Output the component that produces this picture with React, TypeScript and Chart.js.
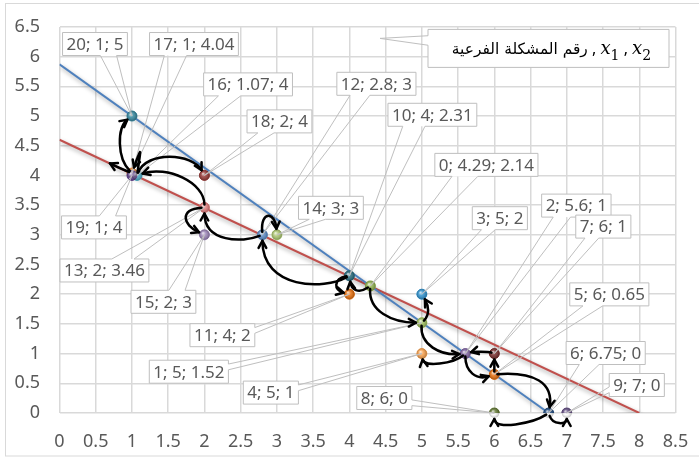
import React, { useEffect, useRef } from "react";
import { Chart, registerables } from "chart.js";

Chart.register(...registerables);

// ---- data ----
const problemIds = [0, 1, 2, 3, 4, 5, 6, 7, 8, 9, 10, 11, 12, 13, 14, 15, 16, 17, 18, 19, 20];
const x1Values = [4.29, 5, 5.6, 5, 5, 6, 6.75, 6, 6, 7, 4, 4, 2.8, 2, 3, 2, 1.07, 1, 2, 1, 1];
const x2Values = [2.14, 1.52, 1, 2, 1, 0.65, 0, 1, 0, 0, 2.31, 2, 3, 3.46, 3, 3, 4, 4.04, 4, 4, 5];
const pointColors = [
  "#8FB04C", "#9BBB59", "#8064A2", "#2D8FCB", "#F6A04D", "#E46C0A", "#1F497D",
  "#772C2A", "#5F7530", "#5F4A7E", "#276A7C", "#E46C0A", "#5A8AC6", "#E07B7B",
  "#A9C46E", "#9982B5", "#4BACC6", "#F79646", "#943634", "#5F3D8E", "#31859C",
];
const blueLineX = [0, 6.75];
const blueLineY = [5.87, 0];
const redLineX = [0, 8];
const redLineY = [4.6, 0];
const xTicks = [0, 0.5, 1, 1.5, 2, 2.5, 3, 3.5, 4, 4.5, 5, 5.5, 6, 6.5, 7, 7.5, 8, 8.5];
const yTicks = [0, 0.5, 1, 1.5, 2, 2.5, 3, 3.5, 4, 4.5, 5, 5.5, 6, 6.5];
const legendArabic = "رقم المشكلة الفرعية";
const arrowFrom = [0, 10, 10, 12, 12, 13, 13, 16, 16, 17, 17, 0, 1, 1, 2, 2, 5, 7, 5, 6, 6];
const arrowTo = [10, 11, 12, 14, 13, 15, 16, 18, 17, 20, 19, 1, 3, 2, 4, 5, 7, 2, 6, 8, 9];

// ---- layout / style (label offsets in px from point, arrow bends in px) ----
const labelOffsets: [number, number][] = [
  [116, -121], [-233, 49], [111, -148], [78, -76], [-151, 39], [115, -80], [57, -60],
  [109, -127], [-110, -15], [70, -28], [83, -161], [-127, 41], [114, -151], [-100, 63],
  [54, -27], [-41, 67], [111, -91], [62, -129], [75, -54], [-38, 52], [-37, -72],
];
// c1 offset from start, c2 offset from end, optional end offset
const arrowBends: number[][] = [
  [-12, 8, 2, 14],
  [-16, 3, -16, -4],
  [-25, 14, 0, 55],
  [-2, -24, -2, -24],
  [-20, 8, 0, 35],
  [-25, 2, -22, -10],
  [0, -25, 30, -10],
  [10, -25, -12, -22],
  [4, -28, 10, -28],
  [-15, -15, -15, 12],
  [-8, -3, 8, 4, -22, -12],
  [-2, 25, -30, 0],
  [8, -8, 7, 12],
  [-2, 22, -25, 2],
  [-12, 10, 2, 14],
  [0, 18, -18, 6],
  [0, -6, 0, 8],
  [-6, -2, 8, -2],
  [40, -3, 5, -30],
  [-15, 10, 0, 18],
  [4, 12, 0, 12],
];

const TEXT_GRAY = "#595959";
const LABEL_FONT = '17px "Noto Sans"';

function drawCallout(ctx: CanvasRenderingContext2D, px: number, py: number, l: number, t: number, w: number, h: number) {
  const cx = l + w / 2, cy = t + h / 2;
  const dx = px - cx, dy = py - cy;
  const dq = (dx * h) / w;
  const dz = Math.abs(dy) - Math.abs(dq);
  const xg1 = dx > 0 ? 7 : 2, xg2 = dx > 0 ? 10 : 5;
  const yg1 = dy > 0 ? 7 : 2, yg2 = dy > 0 ? 10 : 5;
  ctx.beginPath();
  ctx.moveTo(l, t);
  if (dz > 0 && dy < 0) {
    ctx.lineTo(l + (w * xg1) / 12, t);
    ctx.lineTo(px, py);
    ctx.lineTo(l + (w * xg2) / 12, t);
  }
  ctx.lineTo(l + w, t);
  if (dz <= 0 && dx > 0) {
    ctx.lineTo(l + w, t + (h * yg1) / 12);
    ctx.lineTo(px, py);
    ctx.lineTo(l + w, t + (h * yg2) / 12);
  }
  ctx.lineTo(l + w, t + h);
  if (dz > 0 && dy > 0) {
    ctx.lineTo(l + (w * xg2) / 12, t + h);
    ctx.lineTo(px, py);
    ctx.lineTo(l + (w * xg1) / 12, t + h);
  }
  ctx.lineTo(l, t + h);
  if (dz <= 0 && dx < 0) {
    ctx.lineTo(l, t + (h * yg2) / 12);
    ctx.lineTo(px, py);
    ctx.lineTo(l, t + (h * yg1) / 12);
  }
  ctx.closePath();
  ctx.fillStyle = "#FFFFFF";
  ctx.fillRect(l, t, w, h);
  ctx.strokeStyle = "#BFBFBF";
  ctx.lineWidth = 1;
  ctx.stroke();
}

const framePlugin = {
  id: "frame",
  beforeDraw(chart: any) {
    const ctx = chart.ctx;
    ctx.save();
    ctx.fillStyle = "#FFFFFF";
    ctx.fillRect(0, 0, chart.width, chart.height);
    ctx.strokeStyle = "#D9D9D9";
    ctx.lineWidth = 1;
    ctx.strokeRect(5.5, 3.5, chart.width + 5, chart.height - 6.5);
    ctx.restore();
  },
  beforeDatasetDraw(chart: any, args: any) {
    const ctx = chart.ctx;
    ctx.save();
    if (args.index > 0) {
      ctx.shadowColor = "rgba(0,0,0,0.35)";
      ctx.shadowBlur = 4;
      ctx.shadowOffsetX = 1.5;
      ctx.shadowOffsetY = 2.5;
    }
  },
  afterDatasetDraw(chart: any, args: any) {
    const ctx: CanvasRenderingContext2D = chart.ctx;
    ctx.restore();
    if (args.index === 0) {
      const meta = chart.getDatasetMeta(0);
      ctx.save();
      meta.data.forEach((el: any) => {
        const g = ctx.createRadialGradient(el.x - 1.5, el.y - 1.8, 0.3, el.x, el.y, 5);
        g.addColorStop(0, "rgba(255,255,255,0.75)");
        g.addColorStop(0.45, "rgba(255,255,255,0.15)");
        g.addColorStop(1, "rgba(0,0,0,0.25)");
        ctx.beginPath();
        ctx.arc(el.x, el.y, 5, 0, Math.PI * 2);
        ctx.fillStyle = g;
        ctx.fill();
      });
      ctx.restore();
    }
  },
};

const calloutPlugin = {
  id: "callouts",
  afterDatasetsDraw(chart: any) {
    const ctx: CanvasRenderingContext2D = chart.ctx;
    const xs = chart.scales.x, ys = chart.scales.y;
    ctx.save();
    ctx.font = LABEL_FONT;
    ctx.textAlign = "center";
    ctx.textBaseline = "middle";
    problemIds.forEach((id, i) => {
      const px = xs.getPixelForValue(x1Values[i]);
      const py = ys.getPixelForValue(x2Values[i]);
      const text = `${id}; ${x1Values[i]}; ${x2Values[i]}`;
      const w = ctx.measureText(text).width + 8;
      const h = 23;
      const cx = px + labelOffsets[i][0], cy = py + labelOffsets[i][1];
      drawCallout(ctx, px, py, cx - w / 2, cy - h / 2, w, h);
      ctx.fillStyle = TEXT_GRAY;
      ctx.fillText(text, cx, cy + 1);
    });

    // header callout
    const area = chart.chartArea;
    const bl = area.left + 368.5, bt = area.top + 2.5, bw = 241, bh = 38;
    drawCallout(ctx, area.left + 320.5, area.top + 11.5, bl, bt, bw, bh);
    ctx.font = '16px "DejaVu Sans"';
    const arSize = (16 * 136) / ctx.measureText(legendArabic).width;
    const arFont = `${arSize.toFixed(2)}px "DejaVu Sans"`;
    const mathFont = 'italic 18px "DejaVu Serif"';
    const subFont = '14px "DejaVu Serif"';
    const commaFont = '16px "Noto Sans"';
    ctx.textAlign = "left";
    ctx.textBaseline = "alphabetic";
    const pieces: [string, string, number][] = [
      [legendArabic, arFont, 0],
      [" , ", commaFont, 0],
      ["x", mathFont, 0],
      ["1", subFont, 6],
      [" , ", commaFont, 0],
      ["x", mathFont, 0],
      ["2", subFont, 6],
    ];
    let total = 0;
    const widths = pieces.map(([s, f]) => {
      ctx.font = f;
      const m = ctx.measureText(s).width;
      total += m;
      return m;
    });
    let xx = bl + bw / 2 + 3 - total / 2;
    const base = bt + 24.5;
    ctx.fillStyle = "#000000";
    pieces.forEach(([s, f, off], k) => {
      ctx.font = f;
      ctx.fillText(s, xx, base + off);
      xx += widths[k];
    });
    ctx.restore();
  },
};

const arrowPlugin = {
  id: "arrows",
  afterDraw(chart: any) {
    const ctx: CanvasRenderingContext2D = chart.ctx;
    const xs = chart.scales.x, ys = chart.scales.y;
    ctx.save();
    ctx.strokeStyle = "#000000";
    ctx.lineWidth = 2.5;
    ctx.lineCap = "round";
    ctx.lineJoin = "round";
    arrowFrom.forEach((from, k) => {
      const to = arrowTo[k];
      const b = arrowBends[k];
      let sx = xs.getPixelForValue(x1Values[from]);
      let sy = ys.getPixelForValue(x2Values[from]);
      let ex = xs.getPixelForValue(x1Values[to]) + (b[4] || 0);
      let ey = ys.getPixelForValue(x2Values[to]) + (b[5] || 0);
      const c1x = sx + b[0], c1y = sy + b[1];
      const c2x = ex + b[2], c2y = ey + b[3];
      let d = Math.hypot(c1x - sx, c1y - sy) || 1;
      sx += ((c1x - sx) / d) * 3;
      sy += ((c1y - sy) / d) * 3;
      const shrink = b.length > 4 ? 0 : 6;
      d = Math.hypot(c2x - ex, c2y - ey) || 1;
      ex += ((c2x - ex) / d) * shrink;
      ey += ((c2y - ey) / d) * shrink;
      ctx.beginPath();
      ctx.moveTo(sx, sy);
      ctx.bezierCurveTo(c1x, c1y, c2x, c2y, ex, ey);
      ctx.stroke();
      const a = Math.atan2(ey - c2y, ex - c2x);
      const L = 8, sp = 0.5;
      ctx.beginPath();
      ctx.moveTo(ex - L * Math.cos(a - sp), ey - L * Math.sin(a - sp));
      ctx.lineTo(ex, ey);
      ctx.lineTo(ex - L * Math.cos(a + sp), ey - L * Math.sin(a + sp));
      ctx.stroke();
    });
    ctx.restore();
  },
};

export default function App() {
  const ref = useRef<HTMLCanvasElement>(null);
  useEffect(() => {
    document.body.style.margin = "0";
    const canvas = ref.current!;
    const tickFont = { family: "Noto Sans", size: 18 };
    const chart = new Chart(canvas, {
      type: "scatter",
      data: {
        datasets: [
          {
            label: "points",
            data: problemIds.map((_, i) => ({ x: x1Values[i], y: x2Values[i] })),
            pointRadius: 5,
            pointHoverRadius: 5,
            pointBackgroundColor: pointColors,
            pointBorderColor: pointColors,
            pointBorderWidth: 1,
            showLine: false,
            order: 0,
          },
          {
            label: "blue",
            data: blueLineX.map((x, i) => ({ x, y: blueLineY[i] })),
            showLine: true,
            borderColor: "#4F81BD",
            borderWidth: 2,
            pointRadius: 0,
            order: 1,
          },
          {
            label: "red",
            data: redLineX.map((x, i) => ({ x, y: redLineY[i] })),
            showLine: true,
            borderColor: "#C0504D",
            borderWidth: 2,
            pointRadius: 0,
            order: 2,
          },
        ],
      },
      options: {
        responsive: false,
        animation: false,
        devicePixelRatio: 1,
        layout: { padding: { left: 0, right: 23.5, top: 26.9, bottom: 0 } },
        plugins: { legend: { display: false }, tooltip: { enabled: false } },
        scales: {
          x: {
            type: "linear",
            min: 0,
            max: 8.5,
            afterBuildTicks: (s: any) => {
              s.ticks = xTicks.map((v) => ({ value: v }));
            },
            afterFit: (s: any) => {
              s.height = 46;
            },
            ticks: {
              font: tickFont,
              color: TEXT_GRAY,
              padding: 0,
              maxRotation: 0,
              autoSkip: false,
              callback: (v: any) => String(v),
            },
            grid: {
              color: "#D9D9D9",
              lineWidth: 1.5,
              drawTicks: true,
              tickLength: 17.7,
              tickColor: "rgba(0,0,0,0)",
            },
            border: { display: false },
          },
          y: {
            type: "linear",
            min: 0,
            max: 6.5,
            afterBuildTicks: (s: any) => {
              s.ticks = yTicks.map((v) => ({ value: v }));
            },
            afterFit: (s: any) => {
              s.width = 59.5;
            },
            ticks: {
              font: tickFont,
              color: TEXT_GRAY,
              padding: 0,
              autoSkip: false,
              callback: (v: any) => String(v),
            },
            grid: {
              color: "#D9D9D9",
              lineWidth: 1.5,
              drawTicks: true,
              tickLength: 19.5,
              tickColor: "rgba(0,0,0,0)",
            },
            border: { display: false },
          },
        },
      },
      plugins: [framePlugin, calloutPlugin, arrowPlugin],
    } as any);
    return () => chart.destroy();
  }, []);
  return (
    <canvas
      ref={ref}
      width={699}
      height={459}
      style={{ display: "block", width: 699, height: 459 }}
    />
  );
}
